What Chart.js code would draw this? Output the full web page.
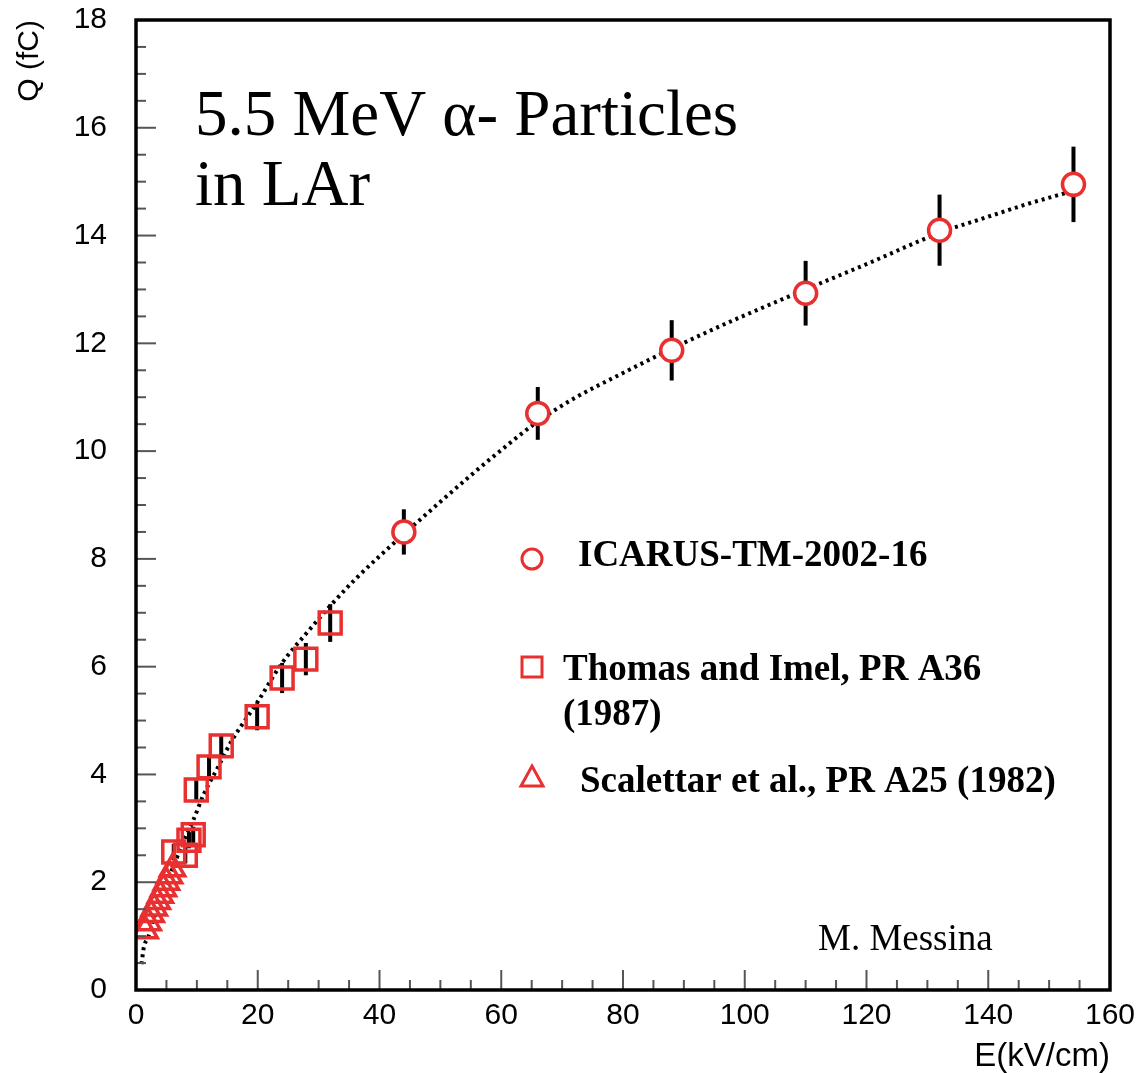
<!DOCTYPE html>
<html>
<head>
<meta charset="utf-8">
<script src="https://cdn.jsdelivr.net/npm/chart.js@4.4.0/dist/chart.umd.min.js"></script>
<style>
  body { margin: 0; background: #fff; }
  #wrap { width: 1139px; height: 1073px; }
</style>
</head>
<body>
<div id="wrap"><canvas id="myChart"></canvas></div>
<script>
// ICARUS-TM-2002-16
var icarusE = [44, 66, 88, 110, 132, 154];
var icarusQ = [8.50, 10.70, 11.87, 12.93, 14.10, 14.95];
var icarusErr = [0.42, 0.49, 0.56, 0.60, 0.66, 0.70];

// Thomas and Imel, PR A36 (1987)
var thomasE = [6.2, 8.1, 8.7, 9.4, 9.9, 12.0, 14.0, 19.9, 24.0, 27.9, 31.9];
var thomasQ = [2.56, 2.50, 2.78, 2.88, 3.71, 4.14, 4.53, 5.07, 5.79, 6.14, 6.81];
var thomasErr = [0.15, 0.15, 0.15, 0.15, 0.18, 0.20, 0.20, 0.25, 0.28, 0.30, 0.35];

// Scalettar et al., PR A25 (1982)
var scalE = [1.5, 2.0, 2.5, 3.0, 3.5, 4.0, 4.5, 5.0, 5.5, 6.0];
var scalQ = [1.10, 1.25, 1.40, 1.52, 1.64, 1.76, 1.88, 2.00, 2.12, 2.25];

// dotted fit curve
var fitE = [0.9, 1.3, 2.0, 3.0, 4.4, 6.1, 7.7, 9.4, 11.2, 13.5, 15.6, 20, 24, 28, 32, 36, 40, 44, 50, 55, 60, 66, 72, 80, 88, 95, 100, 110, 120, 132, 140, 146, 153];
var fitQ = [0.48, 0.80, 0.98, 1.35, 1.80, 2.28, 2.73, 3.15, 3.65, 4.14, 4.60, 5.35, 6.07, 6.62, 7.14, 7.62, 8.05, 8.46, 9.06, 9.55, 10.02, 10.55, 10.98, 11.45, 11.90, 12.27, 12.52, 13.00, 13.47, 14.05, 14.35, 14.57, 14.80];

var xTicks = [0, 20, 40, 60, 80, 100, 120, 140, 160];
var yTicks = [0, 2, 4, 6, 8, 10, 12, 14, 16, 18];

var red = 'rgb(232,48,48)';

function pts(xs, ys) {
    return xs.map(function (v, i) { return { x: v, y: ys[i] }; });
}

var frame = {
    id: 'frame',
    beforeDatasetsDraw: function (chart) {
        var ctx = chart.ctx, sx = chart.scales.x, sy = chart.scales.y;
        ctx.save();
        ctx.strokeStyle = '#000';
        ctx.lineWidth = 4;
        function bars(E, Q, err) {
            for (var i = 0; i < E.length; i++) {
                var px = sx.getPixelForValue(E[i]);
                ctx.beginPath();
                ctx.moveTo(px, sy.getPixelForValue(Q[i] - err[i]));
                ctx.lineTo(px, sy.getPixelForValue(Q[i] + err[i]));
                ctx.stroke();
            }
        }
        bars(icarusE, icarusQ, icarusErr);
        bars(thomasE, thomasQ, thomasErr);
        ctx.restore();
    },
    afterDraw: function (chart) {
        var ctx = chart.ctx, a = chart.chartArea, sx = chart.scales.x, sy = chart.scales.y;
        ctx.save();
        // inward ticks
        ctx.strokeStyle = '#555';
        ctx.lineWidth = 2;
        var v, p, len;
        for (v = 0; v <= 160; v += 5) {
            p = sx.getPixelForValue(v);
            len = v % 20 === 0 ? 20 : 10;
            ctx.beginPath();
            ctx.moveTo(p, a.bottom);
            ctx.lineTo(p, a.bottom - len);
            ctx.stroke();
        }
        for (v = 0; v <= 18; v += 0.5) {
            p = sy.getPixelForValue(v);
            len = v % 2 === 0 ? 20 : 10;
            ctx.beginPath();
            ctx.moveTo(a.left, p);
            ctx.lineTo(a.left + len, p);
            ctx.stroke();
        }
        // frame
        ctx.strokeStyle = '#000';
        ctx.lineWidth = 3.5;
        ctx.strokeRect(a.left, a.top, a.right - a.left, a.bottom - a.top);

        // title text
        ctx.fillStyle = '#000';
        ctx.textAlign = 'left';
        ctx.textBaseline = 'alphabetic';
        ctx.font = '65px "Liberation Serif"';
        ctx.fillText('5.5 MeV \u03b1- Particles', 195, 135);
        ctx.fillText('in LAr', 195, 205);

        // legend
        ctx.strokeStyle = red;
        ctx.lineWidth = 3;
        ctx.fillStyle = '#fff';
        ctx.beginPath();
        ctx.arc(532, 559, 10, 0, Math.PI * 2);
        ctx.fill();
        ctx.stroke();
        ctx.strokeRect(522, 657, 20, 20);
        ctx.beginPath();
        ctx.moveTo(532, 766);
        ctx.lineTo(543, 786);
        ctx.lineTo(521, 786);
        ctx.closePath();
        ctx.stroke();

        ctx.fillStyle = '#000';
        ctx.font = 'bold 37px "Liberation Serif"';
        ctx.fillText('ICARUS-TM-2002-16', 578, 566);
        ctx.fillText('Thomas and Imel, PR A36', 563, 680);
        ctx.fillText('(1987)', 563, 725);
        ctx.fillText('Scalettar et al., PR A25 (1982)', 580, 792);

        ctx.font = '37px "Liberation Serif"';
        ctx.fillText('M. Messina', 818, 950);
        ctx.restore();
    }
};

var ctx = document.getElementById('myChart').getContext('2d');
var myChart = new Chart(ctx, {
    type: 'scatter',
    data: {
        datasets: [{
            label: 'ICARUS-TM-2002-16',
            data: pts(icarusE, icarusQ),
            pointStyle: 'circle',
            pointRadius: 11,
            borderColor: red,
            backgroundColor: '#fff',
            borderWidth: 3.5
        }, {
            label: 'Thomas and Imel, PR A36 (1987)',
            data: pts(thomasE, thomasQ),
            pointStyle: 'rect',
            pointRadius: 15.5,
            borderColor: red,
            backgroundColor: 'rgba(0,0,0,0)',
            borderWidth: 3.5
        }, {
            label: 'Scalettar et al., PR A25 (1982)',
            data: pts(scalE, scalQ),
            pointStyle: 'triangle',
            pointRadius: 14,
            borderColor: red,
            backgroundColor: 'rgba(0,0,0,0)',
            borderWidth: 3.5
        }, {
            label: 'fit',
            data: pts(fitE, fitQ),
            showLine: true,
            pointRadius: 0,
            borderColor: '#000',
            borderWidth: 4,
            borderDash: [3, 4],
            cubicInterpolationMode: 'monotone'
        }]
    },
    options: {
        responsive: true,
        maintainAspectRatio: false,
        animation: false,
        layout: { padding: { top: 20, right: 29, left: 0, bottom: 0 } },
        plugins: {
            legend: { display: false },
            tooltip: { enabled: false }
        },
        scales: {
            x: {
                type: 'linear',
                min: 0,
                max: 160,
                grid: { display: false },
                border: { display: false },
                afterBuildTicks: function (s) { s.ticks = xTicks.map(function (v) { return { value: v }; }); },
                afterFit: function (s) { s.height = 83; s.paddingLeft = 0; s.paddingRight = 0; },
                ticks: {
                    padding: 0,
                    color: '#000',
                    maxRotation: 0,
                    font: { family: '"Liberation Sans"', size: 30 }
                },
                title: {
                    display: true,
                    text: 'E(kV/cm)',
                    align: 'end',
                    color: '#000',
                    padding: { top: 0, bottom: -4 },
                    font: { family: '"Liberation Sans"', size: 33 }
                }
            },
            y: {
                type: 'linear',
                min: 0,
                max: 18,
                grid: { display: false },
                border: { display: false },
                afterBuildTicks: function (s) { s.ticks = yTicks.map(function (v) { return { value: v }; }); },
                afterFit: function (s) { s.width = 136; s.paddingTop = 0; s.paddingBottom = 0; },
                ticks: {
                    padding: 21,
                    color: '#000',
                    font: { family: '"Liberation Sans"', size: 30 }
                },
                title: {
                    display: true,
                    text: 'Q (fC)',
                    align: 'end',
                    color: '#000',
                    padding: { top: 12, bottom: 0 },
                    font: { family: '"Liberation Sans"', size: 30 }
                }
            }
        }
    },
    plugins: [frame]
});
</script>
</body>
</html>
